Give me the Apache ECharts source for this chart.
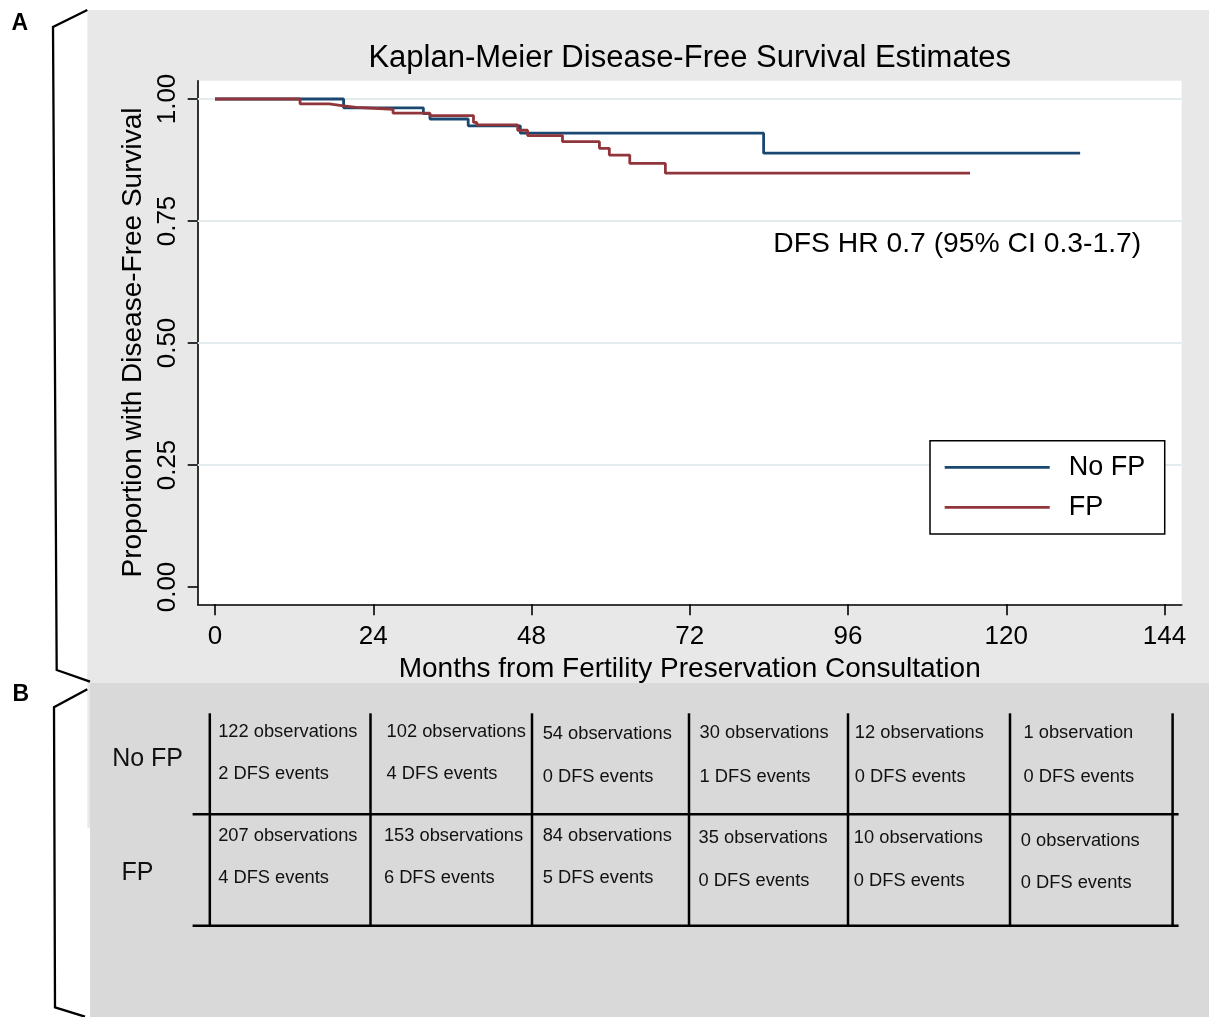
<!DOCTYPE html>
<html><head><meta charset="utf-8">
<script src="https://cdn.jsdelivr.net/npm/echarts@6/dist/echarts.min.js"></script>
<style>html,body{margin:0;padding:0;background:#fff}#c{width:1209px;height:1017px}</style>
</head><body><div id="c"></div>
<script>
// ---- data ----
const xTicks = [0, 24, 48, 72, 96, 120, 144];
const yTicks = [0, 0.25, 0.5, 0.75, 1];
const gridValues = [0.25, 0.5, 0.75, 1];
const seriesNames = ['No FP', 'FP'];
const noFpTimes = [0, 19.5, 31.6, 32.6, 38.4, 46.3, 83.2, 131.2];
const noFpSurv  = [1.0, 0.982, 0.970, 0.959, 0.945, 0.930, 0.889, 0.889];
const fpTimes = [0, 12.9, 17.3, 19.5, 21.4, 27.0, 32.6, 39.2, 39.7, 45.9, 47.4, 52.7, 58.3, 59.8, 62.9, 68.3, 114.5];
const fpSurv  = [1.0, 0.990, 0.986, 0.983, 0.979, 0.971, 0.966, 0.952, 0.947, 0.936, 0.925, 0.9125, 0.899, 0.885, 0.868, 0.848, 0.848];
const noFpObs = [122, 102, 54, 30, 12, 1];
const noFpEvents = [2, 4, 0, 1, 0, 0];
const fpObs = [207, 153, 84, 35, 10, 0];
const fpEvents = [4, 6, 5, 0, 0, 0];
const titleText = 'Kaplan-Meier Disease-Free Survival Estimates';
const hrText = 'DFS HR 0.7 (95% CI 0.3-1.7)';
const xTitle = 'Months from Fertility Preservation Consultation';
const yTitle = 'Proportion with Disease-Free Survival';

// ---- layout ----
const FONT = "'Liberation Sans', Arial, Helvetica, sans-serif";
const G = {left: 197.7, top: 80.7, right: 1181.7, bottom: 604.3};
const pxPerMonth = 6.594, x0 = 215;
const pxPerUnit = 488, y0 = 587;
const xMin = -(x0 - G.left) / pxPerMonth, xMax = (G.right - x0) / pxPerMonth;
const yMin = -(G.bottom - y0) / pxPerUnit, yMax = (y0 - G.top) / pxPerUnit;

const colX = [218.2, 386.6, 542.7, 699.6, 854.8, 1023.5];
const r1ObsY = [731.7, 731.7, 733.7, 733.3, 733.3, 733.3];
const r1EvY  = [774.3, 774.3, 776.7, 776.7, 776.7, 776.7];
const r2ObsY = [835.7, 835.7, 835.7, 837.7, 837.7, 840.7];
const r2EvY  = [878.3, 878.3, 878.3, 881, 881, 883.3];
const r2X = [218.2, 383.9, 542.7, 698.6, 853.8, 1020.8];
const vLinesX = [209.8, 370.5, 532, 689, 848, 1010, 1172.6];

function zip(a, b) { return a.map((v, i) => [v, b[i]]); }
function txt(s, x, y, size, opts) {
  opts = opts || {};
  const weight = opts.weight || 'normal';
  return {type: 'text', z: 20, style: {
    text: s, x: x, y: y, font: weight + ' ' + size + 'px ' + FONT,
    fontSize: size, fontFamily: FONT, fontWeight: weight, fill: opts.fill || '#111',
    align: opts.align || 'left', verticalAlign: 'middle',
    textAlign: opts.align || 'left', textVerticalAlign: 'middle'
  }};
}
function ln(x1, y1, x2, y2, w) {
  return {type: 'line', z: 20, shape: {x1, y1, x2, y2}, style: {stroke: '#000', lineWidth: w || 2.5}};
}
function poly(points) {
  return {type: 'polyline', z: 20, shape: {points}, style: {stroke: '#000', lineWidth: 2.3, fill: null}};
}
function obsLabel(n) { return n + (n === 1 ? ' observation' : ' observations'); }

const graphics = [
  {type: 'rect', z: -10, shape: {x: 87.3, y: 10, width: 1209 - 87.3, height: 673}, style: {fill: '#e8e8e8'}},
  {type: 'rect', z: -10, shape: {x: 90, y: 683, width: 1119, height: 334}, style: {fill: '#d9d9d9'}},
  {type: 'rect', z: -10, shape: {x: 87.3, y: 683, width: 2.7, height: 145}, style: {fill: '#e8e8e8'}},
  poly([[87.3, 10], [53, 27], [56.7, 670], [90, 681.7]]),
  poly([[87.3, 689.3], [54, 707.3], [55, 1007.3], [85, 1016.7]]),
  txt('A', 11.5, 24, 23, {weight: 'bold', fill: '#000'}),
  txt('B', 12.5, 695, 23, {weight: 'bold', fill: '#000'}),
  txt(titleText, (G.left + G.right) / 2, 58.5, 31, {align: 'center', fill: '#000'}),
  txt(hrText, 773.3, 244, 28.3, {fill: '#000'}),
  txt(seriesNames[0], 112.2, 759, 25, {fill: '#111'}),
  txt(seriesNames[1], 121.4, 872.7, 25, {fill: '#111'}),
  ln(192.6, 814.3, 1178.6, 814.3),
  ln(192.6, 925.7, 1178.6, 925.7)
];
vLinesX.forEach(x => graphics.push(ln(x, 713.3, x, 925.7)));
for (let i = 0; i < noFpObs.length; i++) {
  graphics.push(txt(obsLabel(noFpObs[i]), colX[i], r1ObsY[i], 18.3));
  graphics.push(txt(noFpEvents[i] + ' DFS events', colX[i], r1EvY[i], 18.3));
  graphics.push(txt(obsLabel(fpObs[i]), r2X[i], r2ObsY[i], 18.3));
  graphics.push(txt(fpEvents[i] + ' DFS events', r2X[i], r2EvY[i], 18.3));
}

const chart = echarts.init(document.getElementById('c'), null, {renderer: 'canvas'});
chart.setOption({
  animation: false,
  backgroundColor: '#ffffff',
  grid: {left: G.left, top: G.top, width: G.right - G.left, height: G.bottom - G.top,
         show: true, backgroundColor: '#ffffff', borderWidth: 0, containLabel: false},
  xAxis: {
    type: 'value', min: xMin, max: xMax,
    name: xTitle, nameLocation: 'middle', nameGap: 46,
    nameTextStyle: {fontSize: 28, fontFamily: FONT, color: '#000'},
    axisLine: {show: true, onZero: false, lineStyle: {color: '#000', width: 1.6}},
    axisTick: {show: true, length: 11, customValues: xTicks, lineStyle: {color: '#000', width: 1.6}},
    axisLabel: {customValues: xTicks, fontSize: 26, fontFamily: FONT, color: '#000', margin: 20},
    splitLine: {show: false}
  },
  yAxis: {
    type: 'value', min: yMin, max: yMax,
    name: yTitle, nameLocation: 'middle', nameGap: 46,
    nameTextStyle: {fontSize: 28, fontFamily: FONT, color: '#000'},
    axisLine: {show: true, onZero: false, lineStyle: {color: '#000', width: 1.6}},
    axisTick: {show: true, length: 10, customValues: yTicks, lineStyle: {color: '#000', width: 1.6}},
    axisLabel: {customValues: yTicks, rotate: 90, fontSize: 26, fontFamily: FONT, color: '#000', margin: 17,
                formatter: v => v.toFixed(2)},
    splitLine: {show: false}
  },
  legend: {
    orient: 'vertical', left: 930, top: 440.7,
    padding: [11.6, 19.5, 11.6, 13.3],
    itemWidth: 105, itemHeight: 14, itemGap: 10,
    backgroundColor: '#fff', borderColor: '#000', borderWidth: 1.5, borderRadius: 0,
    itemStyle: {opacity: 0},
    lineStyle: {width: 2.8},
    textStyle: {fontSize: 27, fontFamily: FONT, color: '#000', lineHeight: 30, padding: [0, 0, 0, 14]},
    data: seriesNames
  },
  graphic: {elements: graphics},
  series: [
    {
      name: 'grid', type: 'line', data: [], z: 1, silent: true,
      markLine: {silent: true, symbol: 'none', z: 1, label: {show: false},
        lineStyle: {color: '#e2ecef', width: 1.8, type: 'solid'},
        emphasis: {disabled: true},
        data: gridValues.map(v => ({yAxis: v}))}
    },
    {
      name: seriesNames[0], type: 'line', step: 'end', symbol: 'none', showSymbol: false, z: 3,
      lineStyle: {color: '#1a476f', width: 2.8}, itemStyle: {color: '#1a476f'},
      data: zip(noFpTimes, noFpSurv)
    },
    {
      name: seriesNames[1], type: 'line', step: 'end', symbol: 'none', showSymbol: false, z: 4,
      lineStyle: {color: '#90353b', width: 2.8}, itemStyle: {color: '#90353b'},
      data: zip(fpTimes, fpSurv)
    }
  ]
});
</script></body></html>
